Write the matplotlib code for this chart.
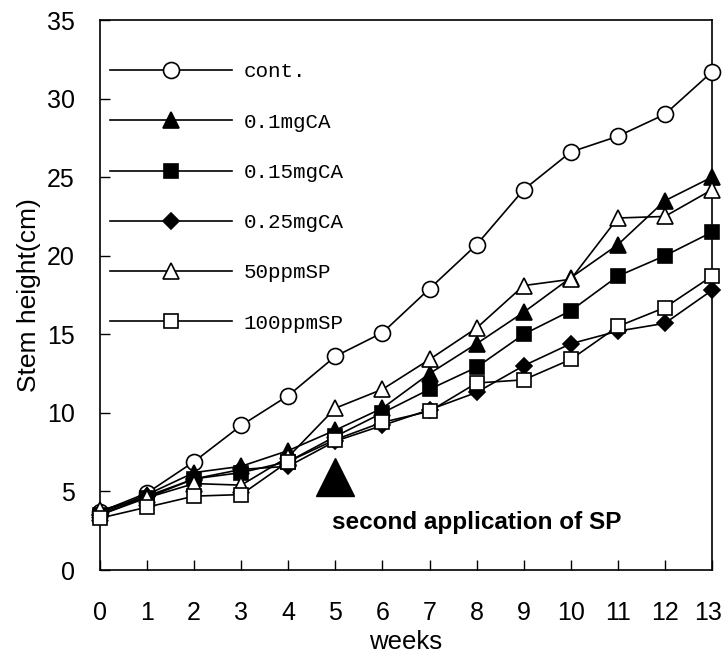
import matplotlib
matplotlib.use("Agg")
import matplotlib.pyplot as plt
import matplotlib.transforms as mtransforms

weeks = list(range(14))
labels = ["cont.", "0.1mgCA", "0.15mgCA", "0.25mgCA", "50ppmSP", "100ppmSP"]
cont = [3.7, 4.9, 6.9, 9.2, 11.1, 13.6, 15.1, 17.9, 20.7, 24.2, 26.6, 27.6, 29.0, 31.7]
ca01 = [3.6, 4.8, 6.2, 6.6, 7.6, 8.9, 10.3, 12.5, 14.4, 16.4, 18.6, 20.7, 23.5, 25.0]
ca015 = [3.5, 4.6, 5.8, 6.2, 6.9, 8.5, 10.0, 11.5, 12.9, 15.0, 16.5, 18.7, 20.0, 21.5]
ca025 = [3.5, 4.7, 5.8, 6.4, 6.6, 8.2, 9.2, 10.2, 11.3, 13.0, 14.4, 15.2, 15.7, 17.8]
sp50 = [3.8, 4.6, 5.5, 5.4, 7.2, 10.3, 11.5, 13.4, 15.4, 18.1, 18.5, 22.4, 22.5, 24.2]
sp100 = [3.3, 4.0, 4.7, 4.8, 6.9, 8.3, 9.4, 10.1, 11.9, 12.1, 13.4, 15.5, 16.7, 18.7]
series = [cont, ca01, ca015, ca025, sp50, sp100]
styles = [("o", "white", 11.5), ("^", "black", 12), ("s", "black", 10.5),
          ("D", "black", 8), ("^", "white", 12), ("s", "white", 10.5)]

xticks = list(range(14))
yticks = [0, 5, 10, 15, 20, 25, 30, 35]
annot_x, annot_y = 5, 5.9
annot_text = "second application of SP"

sans = ["Liberation Sans", "DejaVu Sans"]
monofont = ["Liberation Mono", "DejaVu Sans Mono"]

fig = plt.figure(figsize=(7.24, 6.61), dpi=100)
ax = fig.add_axes([100/724, 1-570/661, 612/724, 550/661])

handles = []
for ys, lab, (m, fc, ms) in zip(series, labels, styles):
    h, = ax.plot(weeks, ys, color="black", lw=1.2, marker=m, markersize=ms,
                 markerfacecolor=fc, markeredgecolor="black", markeredgewidth=1.2,
                 clip_on=False, label=lab, zorder=3)
    handles.append(h)

ax.plot([annot_x], [annot_y], marker="^", color="black", markersize=28, clip_on=False)
ax.text(4.93, 3.0, annot_text, fontsize=17.5, fontweight="bold",
        family=sans, va="center", ha="left")

leg = ax.legend(handles=handles, loc="upper left", bbox_to_anchor=(0.0, 0.942),
                frameon=False, handlelength=5.85, handletextpad=0.55, labelspacing=1.5,
                prop={"family": monofont, "size": 15}, borderaxespad=0.1)

ax.set_xlim(0, 13)
ax.set_ylim(0, 35)
ax.set_xticks(xticks)
ax.set_yticks(yticks)
ax.tick_params(direction="in", length=7, width=1, top=False, right=False)
ax.tick_params(axis="x", pad=22)
ax.tick_params(axis="y", pad=18)
for lab in ax.get_xticklabels() + ax.get_yticklabels():
    lab.set_family(sans)
    lab.set_fontsize(18)
for s in ax.spines.values():
    s.set_linewidth(1.2)

last = ax.get_xticklabels()[-1]
last.set_transform(last.get_transform() + mtransforms.ScaledTranslation(-4/100, 0, fig.dpi_scale_trans))

ax.set_xlabel("weeks", fontsize=18.5, family=sans, labelpad=4)
ax.set_ylabel("Stem height(cm)", fontsize=19, family=sans, labelpad=4)

fig.savefig("out.png", dpi=100)
